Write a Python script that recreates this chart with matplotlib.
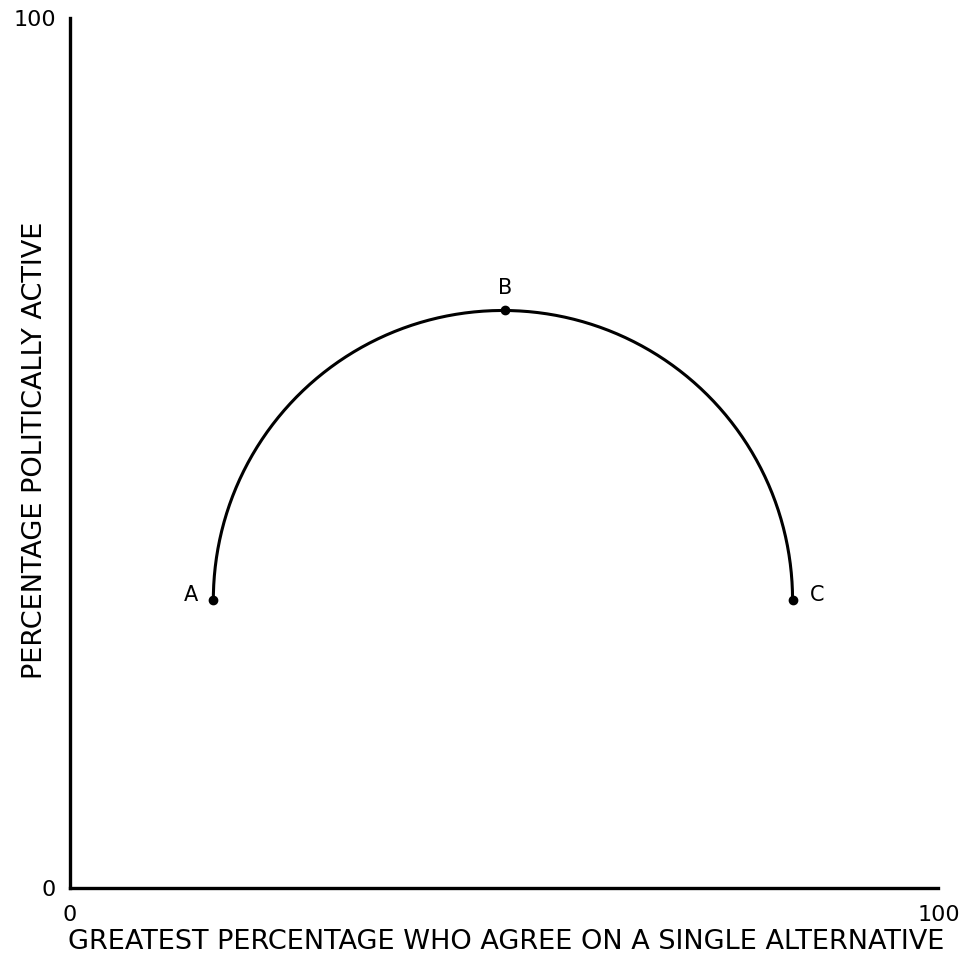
import numpy as np
import matplotlib.pyplot as plt

# points on the curve (percent)
labels = ["A", "B", "C"]
x_pts = [16.5, 50.1, 83.2]
y_pts = [33.1, 66.4, 33.1]

x_ticks = [0, 100]
y_ticks = [0, 100]

fig = plt.figure(figsize=(9.66, 9.57), dpi=100)
ax = fig.add_axes([0.0725, 0.072, 0.899, 0.909])

# half-ellipse through A, B, C
cx = (x_pts[0] + x_pts[2]) / 2
rx = (x_pts[2] - x_pts[0]) / 2
ry = y_pts[1] - y_pts[0]
t = np.linspace(0, np.pi, 300)
ax.plot(cx + rx * np.cos(t), y_pts[0] + ry * np.sin(t), color="black", lw=2.2)

ax.plot(x_pts, y_pts, "o", color="black", ms=6)

offsets = [(-16, 4), (0, 16), (18, 4)]
for lab, x, y, off in zip(labels, x_pts, y_pts, offsets):
    ax.annotate(lab, (x, y), xytext=off, textcoords="offset points",
                ha="center", va="center", fontsize=15)

ax.set_xlim(0, 100)
ax.set_ylim(0, 100)
for s in ["top", "right"]:
    ax.spines[s].set_visible(False)
for s in ["left", "bottom"]:
    ax.spines[s].set_linewidth(2.4)

ax.set_xticks(x_ticks)
ax.set_yticks(y_ticks)
ax.tick_params(length=0, labelsize=16)
ax.tick_params(axis="x", pad=12)
ax.tick_params(axis="y", pad=10)
ax.set_xticklabels(["0", "100"])
ax.set_yticklabels(["0", "100"])

ax.set_xlabel("GREATEST PERCENTAGE WHO AGREE ON A SINGLE ALTERNATIVE", fontsize=19.5, va="center")
ax.set_ylabel("PERCENTAGE POLITICALLY ACTIVE", fontsize=19.5, va="center")
ax.xaxis.set_label_coords(0.502, -0.062)
ax.yaxis.set_label_coords(-0.040, 0.503)

plt.savefig("out.png", dpi=100)
